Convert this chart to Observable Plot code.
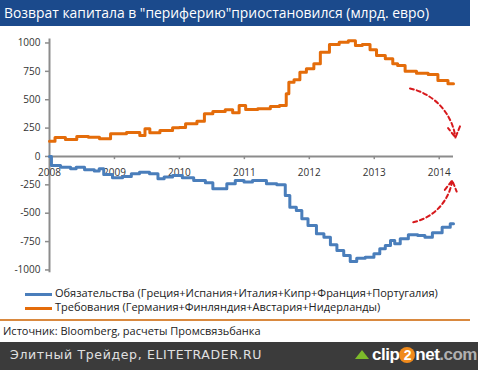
<!DOCTYPE html>
<html><head><meta charset="utf-8">
<script src="https://cdn.jsdelivr.net/npm/d3@7"></script>
<script src="https://cdn.jsdelivr.net/npm/@observablehq/plot@0.6"></script>
<style>
body{margin:0;width:478px;height:370px;overflow:hidden;background:#fff;font-family:"Open Sans",sans-serif;position:relative}
#title{position:absolute;left:0;top:0;width:470px;height:26px;background:#1b4a8c;color:#fff;font-size:13.9px;line-height:25px;padding-left:4px;box-sizing:border-box;white-space:nowrap}
#chart{position:absolute;left:0;top:26px}
.leg{position:absolute;left:25px;font-size:11px;color:#222;white-space:nowrap;line-height:14px}
.leg span{display:inline-block;width:27px;height:3px;vertical-align:middle;margin-right:3px}
#divider{position:absolute;left:0;top:319px;width:470px;height:2px;background:#d9893f}
#source{position:absolute;left:3px;top:323px;font-size:11px;color:#222;white-space:nowrap}
#bar{position:absolute;left:0;top:342px;width:478px;height:28px;background:#3b3b3b}
#bar .l{position:absolute;left:10px;top:5px;font-family:"DejaVu Sans",sans-serif;font-size:12.5px;color:#e0e0e0;letter-spacing:0.65px}
#bar .r{position:absolute;left:372px;top:3px;font-family:"Liberation Sans",sans-serif;font-weight:bold;font-size:17px;color:#fff;letter-spacing:-0.5px}
#bar .r .two{display:inline-block;width:16px;height:16px;border-radius:8px;background:#f08a1c;color:#fff;text-align:center;line-height:16px;font-size:14px}
#bar .r .com{color:#b0b0b0}
#bar .icon{position:absolute;left:355px;top:8px;width:0;height:0;border-left:7px solid transparent;border-right:7px solid transparent;border-bottom:9px solid #7dbb2a}
</style></head>
<body>
<div id="title">Возврат капитала в "периферию"приостановился (млрд. евро)</div>
<div id="chart"></div>
<div class="leg" style="top:286px"><span style="background:#4a7ebb"></span>Обязательства (Греция+Испания+Италия+Кипр+Франция+Португалия)</div>
<div class="leg" style="top:300px"><span style="background:#e46c0a"></span>Требования (Германия+Финляндия+Австария+Нидерланды)</div>
<div id="divider"></div>
<div id="source">Источник: Bloomberg, расчеты Промсвязьбанка</div>
<div id="bar"><div class="l">Элитный Трейдер, ELITETRADER.RU</div><div class="icon"></div><div class="r">clip<span class="two">2</span>net<span class="com">.com</span></div></div>
<script>
const seriesNames = ["Обязательства", "Требования"];
const claimsYear = [2008.00,2008.17,2008.32,2008.52,2008.68,2008.86,2009.02,2009.35,2009.43,2009.51,2009.58,2009.82,2009.97,2010.02,2010.17,2010.37,2010.40,2010.63,2010.78,2010.86,2010.98,2011.06,2011.35,2011.45,2011.63,2011.66,2011.71,2011.82,2011.89,2012.02,2012.12,2012.22,2012.40,2012.52,2012.68,2012.74,2012.89,2012.98,2013.09,2013.25,2013.32,2013.40,2013.55,2013.75,2013.91,2014.05,2014.22];
const claimsValue = [135,167,150,176,170,156,200,211,185,244,209,229,253,255,288,311,376,396,411,385,449,414,420,440,449,552,655,676,743,772,816,919,987,1007,1020,978,987,940,890,861,816,802,751,734,722,670,640];
const liabYear = [2008.00,2008.06,2008.28,2008.37,2008.45,2008.63,2008.75,2008.78,2008.89,2009.05,2009.20,2009.32,2009.45,2009.63,2009.71,2009.82,2009.97,2010.12,2010.32,2010.48,2010.55,2010.68,2010.78,2010.94,2011.05,2011.20,2011.28,2011.40,2011.60,2011.66,2011.74,2011.86,2011.91,2012.05,2012.17,2012.28,2012.37,2012.48,2012.58,2012.68,2012.78,2012.94,2013.05,2013.12,2013.22,2013.28,2013.35,2013.45,2013.60,2013.74,2013.82,2013.97,2014.12,2014.22];
const liabValue = [0,-79,-94,-108,-94,-117,-129,-108,-159,-188,-176,-153,-138,-153,-196,-182,-167,-188,-211,-232,-285,-285,-241,-211,-226,-211,-211,-241,-249,-344,-447,-476,-549,-608,-681,-711,-778,-828,-872,-925,-896,-887,-857,-813,-784,-740,-769,-725,-690,-696,-711,-672,-623,-593];
const yTicks = [-1000,-750,-500,-250,0,250,500,750,1000];
const xTicks = [2008,2009,2010,2011,2012,2013,2014];
// annotation arrows (data units): start year, start value, end year, end value
const arrowX1 = [2013.55, 2013.60];
const arrowY1 = [599, -579];
const arrowX2 = [2014.25, 2014.20];
const arrowY2 = [167, -211];
const arrowBend = [35, -35];

const claims = claimsYear.map((x,i)=>({x, y: claimsValue[i]}));
const liab = liabYear.map((x,i)=>({x, y: liabValue[i]}));
const arrows = arrowX1.map((x1,i)=>({x1, y1: arrowY1[i], x2: arrowX2[i], y2: arrowY2[i], bend: arrowBend[i]}));

const axisColor = "#8c8c8c";
const plot = Plot.plot({
  width: 478, height: 255,
  marginLeft: 49, marginRight: 25, marginTop: 12.5, marginBottom: 8.7,
  x: {domain: [2008, 2014.22], axis: null},
  y: {domain: [-1025, 1035], axis: null},
  style: {fontFamily: "Open Sans, sans-serif", fontSize: "10px", color: "#333"},
  marks: [
    Plot.ruleY([0], {stroke: axisColor, strokeWidth: 2}),
    Plot.ruleX([2008], {y1: -1025, y2: 1035, stroke: axisColor, strokeWidth: 2}),
    Plot.ruleX(xTicks.slice(1), {x: d=>d, y1: 0, y2: -28, stroke: axisColor, strokeWidth: 1.5}),
    Plot.text(xTicks, {x: d=>d, y: 0, dy: 16, text: d=>String(d), fill: "#333", fontSize: 10}),
    Plot.ruleY(yTicks, {y: d=>d, x1: 2008, x2: 2008, insetLeft: -4, stroke: axisColor, strokeWidth: 1.5}),
    Plot.text(yTicks, {x: 2008, y: d=>d, text: d=>String(d), textAnchor: "end", dx: -9, fill: "#333", fontSize: 10}),
    Plot.line(claims, {x: "x", y: "y", stroke: "#e46c0a", strokeWidth: 3, curve: "step"}),
    Plot.line(liab, {x: "x", y: "y", stroke: "#4a7ebb", strokeWidth: 3, curve: "step"}),
    ...arrows.map(a => Plot.arrow([a], {x1: "x1", y1: "y1", x2: "x2", y2: "y2", bend: a.bend, stroke: "#d7191c", strokeWidth: 2, strokeDasharray: "4,3", headLength: 9}))
  ]
});
document.getElementById("chart").appendChild(plot);
</script>
</body></html>
